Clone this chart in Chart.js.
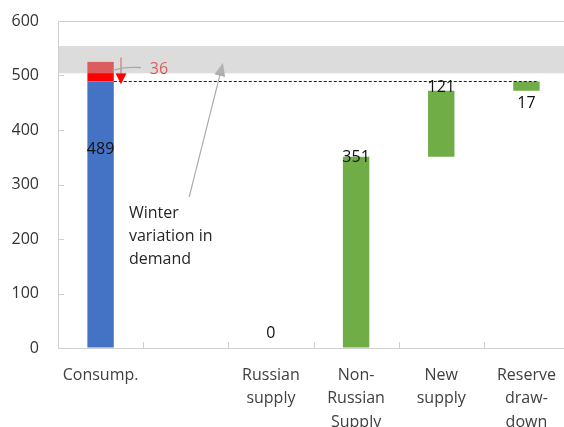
<!DOCTYPE html>
<html>
<head>
<meta charset="utf-8">
<script src="https://cdn.jsdelivr.net/npm/chart.js@4.4.1/dist/chart.umd.min.js"></script>
<style>
  html, body { margin: 0; padding: 0; background: #fff; overflow: hidden; width: 564px; height: 427px; }
  #wrap { position: absolute; left: 0; top: 0; width: 572px; height: 440px; }
</style>
</head>
<body>
<div id="wrap"><canvas id="c"></canvas></div>
<script>
// ---- data ----
const categories = [["Consump."], [""], ["Russian", "supply"], ["Non-", "Russian", "Supply"], ["New", "supply"], ["Reserve", "draw-", "down"]];
const consumptionBar = [[0, 489], null, null, null, null, null];
const winterBar = [[489, 525], null, null, null, null, null];
const supplyBars = [null, null, [0, 0], [0, 351], [351, 472], [472, 489]];
const dataLabels = ["489", "", "0", "351", "121", "17"];
const winterLabel = "36";
const winterText = ["Winter", "variation in", "demand"];
const yTicks = [0, 100, 200, 300, 400, 500, 600];
const bandRange = [504, 554];
const dashedLevel = 489;

// annotation anchors in data space (category index, value)
const redArrow = { x: 0.24, from: 533, to: 484 };
const winterLabelPos = { x: 0.685, y: 511 };
const grayArrow = { x1: 1.04, y1: 277, x2: 1.437, y2: 523 };
const winterTextPos = { x: 0.333, y: 246 };

const FONT = '"Open Sans", "Noto Sans", sans-serif';

const annotations = {
  id: 'annotations',
  afterDatasetsDraw(chart) {
    const { ctx, chartArea: a, scales: { x, y } } = chart;
    ctx.save();

    // inside tick marks
    ctx.strokeStyle = '#D0D0D0';
    ctx.lineWidth = 1;
    yTicks.forEach(v => {
      const py = Math.round(y.getPixelForValue(v)) + 0.5;
      ctx.beginPath(); ctx.moveTo(a.left, py); ctx.lineTo(a.left + 6, py); ctx.stroke();
    });
    for (let i = 1; i < categories.length; i++) {
      const px = Math.round(x.getPixelForValue(i - 0.5)) + 0.5;
      ctx.beginPath(); ctx.moveTo(px, a.bottom); ctx.lineTo(px, a.bottom - 6); ctx.stroke();
    }

    // dashed level line
    const m0 = chart.getDatasetMeta(0).data[0];
    const mLast = chart.getDatasetMeta(2).data[categories.length - 1];
    const dy = Math.round(y.getPixelForValue(dashedLevel)) + 0.5;
    ctx.strokeStyle = '#222';
    ctx.setLineDash([3, 2]);
    ctx.beginPath();
    ctx.moveTo(m0.x + m0.width / 2, dy);
    ctx.lineTo(mLast.x + mLast.width / 2 - 3, dy);
    ctx.stroke();
    ctx.setLineDash([]);

    // red arrow
    const rx = x.getPixelForValue(redArrow.x);
    const ry1 = y.getPixelForValue(redArrow.from);
    const ry2 = y.getPixelForValue(redArrow.to);
    ctx.strokeStyle = '#FF0000';
    ctx.fillStyle = '#FF0000';
    ctx.lineWidth = 1;
    ctx.beginPath(); ctx.moveTo(rx, ry1); ctx.lineTo(rx, ry2 - 10); ctx.stroke();
    ctx.beginPath(); ctx.moveTo(rx - 5.5, ry2 - 11); ctx.lineTo(rx + 5.5, ry2 - 11); ctx.lineTo(rx, ry2); ctx.closePath(); ctx.fill();

    // leader line to "36"
    const lx = x.getPixelForValue(winterLabelPos.x);
    const ly = y.getPixelForValue(winterLabelPos.y);
    ctx.strokeStyle = '#9A9A9A';
    ctx.lineWidth = 1.3;
    ctx.beginPath();
    ctx.moveTo(m0.x + m0.width / 2 - 1, ly + 1);
    ctx.quadraticCurveTo(m0.x + m0.width / 2 + 10, ly - 3, lx - 18, ly - 2);
    ctx.stroke();

    ctx.fillStyle = '#FF0000';
    ctx.font = '16px ' + FONT;
    ctx.textAlign = 'center';
    ctx.textBaseline = 'middle';
    ctx.fillText(winterLabel, lx, ly);

    // gray arrow
    const gx1 = x.getPixelForValue(grayArrow.x1), gy1 = y.getPixelForValue(grayArrow.y1);
    const gx2 = x.getPixelForValue(grayArrow.x2), gy2 = y.getPixelForValue(grayArrow.y2);
    const ang = Math.atan2(gy2 - gy1, gx2 - gx1);
    ctx.strokeStyle = '#ABABAB';
    ctx.fillStyle = '#ABABAB';
    ctx.lineWidth = 1.2;
    ctx.beginPath();
    ctx.moveTo(gx1, gy1);
    ctx.lineTo(gx2 - 10 * Math.cos(ang), gy2 - 10 * Math.sin(ang));
    ctx.stroke();
    ctx.beginPath();
    ctx.moveTo(gx2, gy2);
    ctx.lineTo(gx2 - 13 * Math.cos(ang) + 5.5 * Math.sin(ang), gy2 - 13 * Math.sin(ang) - 5.5 * Math.cos(ang));
    ctx.lineTo(gx2 - 13 * Math.cos(ang) - 5.5 * Math.sin(ang), gy2 - 13 * Math.sin(ang) + 5.5 * Math.cos(ang));
    ctx.closePath();
    ctx.fill();

    // winter text
    const tx = x.getPixelForValue(winterTextPos.x);
    const ty = y.getPixelForValue(winterTextPos.y);
    ctx.fillStyle = '#262626';
    ctx.textAlign = 'left';
    winterText.forEach((t, i) => ctx.fillText(t, tx, ty + i * 23));

    // data labels
    ctx.fillStyle = '#111';
    ctx.textAlign = 'center';
    const place = [
      el => el.y + 68,       // consumption: inside
      null,
      el => el.base - 15,    // zero bar
      el => el.y + 1,        // at top
      el => el.y - 3,        // above top
      el => el.base + 13     // below
    ];
    dataLabels.forEach((lab, i) => {
      if (!lab) return;
      const el = i === 0 ? chart.getDatasetMeta(0).data[0] : chart.getDatasetMeta(2).data[i];
      const top = Math.min(el.y, el.base), bot = Math.max(el.y, el.base);
      const e = { y: top, base: bot };
      ctx.fillText(lab, el.x, place[i](e));
    });

    // translucent band on top
    const b1 = y.getPixelForValue(bandRange[1]);
    const b0 = y.getPixelForValue(bandRange[0]);
    ctx.fillStyle = 'rgba(185,185,185,0.5)';
    ctx.fillRect(a.left + 1, b1, a.right - a.left - 1, b0 - b1);

    ctx.restore();
  }
};

new Chart(document.getElementById('c'), {
  type: 'bar',
  data: {
    labels: categories,
    datasets: [
      { label: 'Consumption', data: consumptionBar, backgroundColor: '#4472C4' },
      { label: 'Winter variation', data: winterBar, backgroundColor: '#FF0000' },
      { label: 'Supply', data: supplyBars, backgroundColor: '#70AD47' }
    ]
  },
  options: {
    responsive: true,
    maintainAspectRatio: false,
    animation: false,
    events: [],
    devicePixelRatio: 1,
    layout: { padding: { left: 12, top: 21, right: 3, bottom: 0 } },
    plugins: { legend: { display: false }, tooltip: { enabled: false } },
    datasets: { bar: { grouped: false, categoryPercentage: 1, barPercentage: 0.31, borderWidth: 0 } },
    scales: {
      x: {
        grid: { display: false, drawTicks: false },
        border: { color: '#D0D0D0' },
        ticks: { color: '#404040', font: { family: FONT, size: 16, lineHeight: 1.45 }, padding: 16, maxRotation: 0, autoSkip: false },
        afterFit: s => { s.height = 92; s.paddingLeft = 0; s.paddingRight = 0; }
      },
      y: {
        min: 0, max: 600,
        grid: { drawTicks: false, color: c => (c.tick && c.tick.value === 600 ? '#D0D0D0' : 'rgba(0,0,0,0)') },
        border: { color: '#D0D0D0' },
        ticks: { stepSize: 100, color: '#333', font: { family: FONT, size: 16 }, padding: 19 },
        afterFit: s => { s.width = 46; s.paddingTop = 0; s.paddingBottom = 0; }
      }
    }
  },
  plugins: [annotations]
});
</script>
</body>
</html>
